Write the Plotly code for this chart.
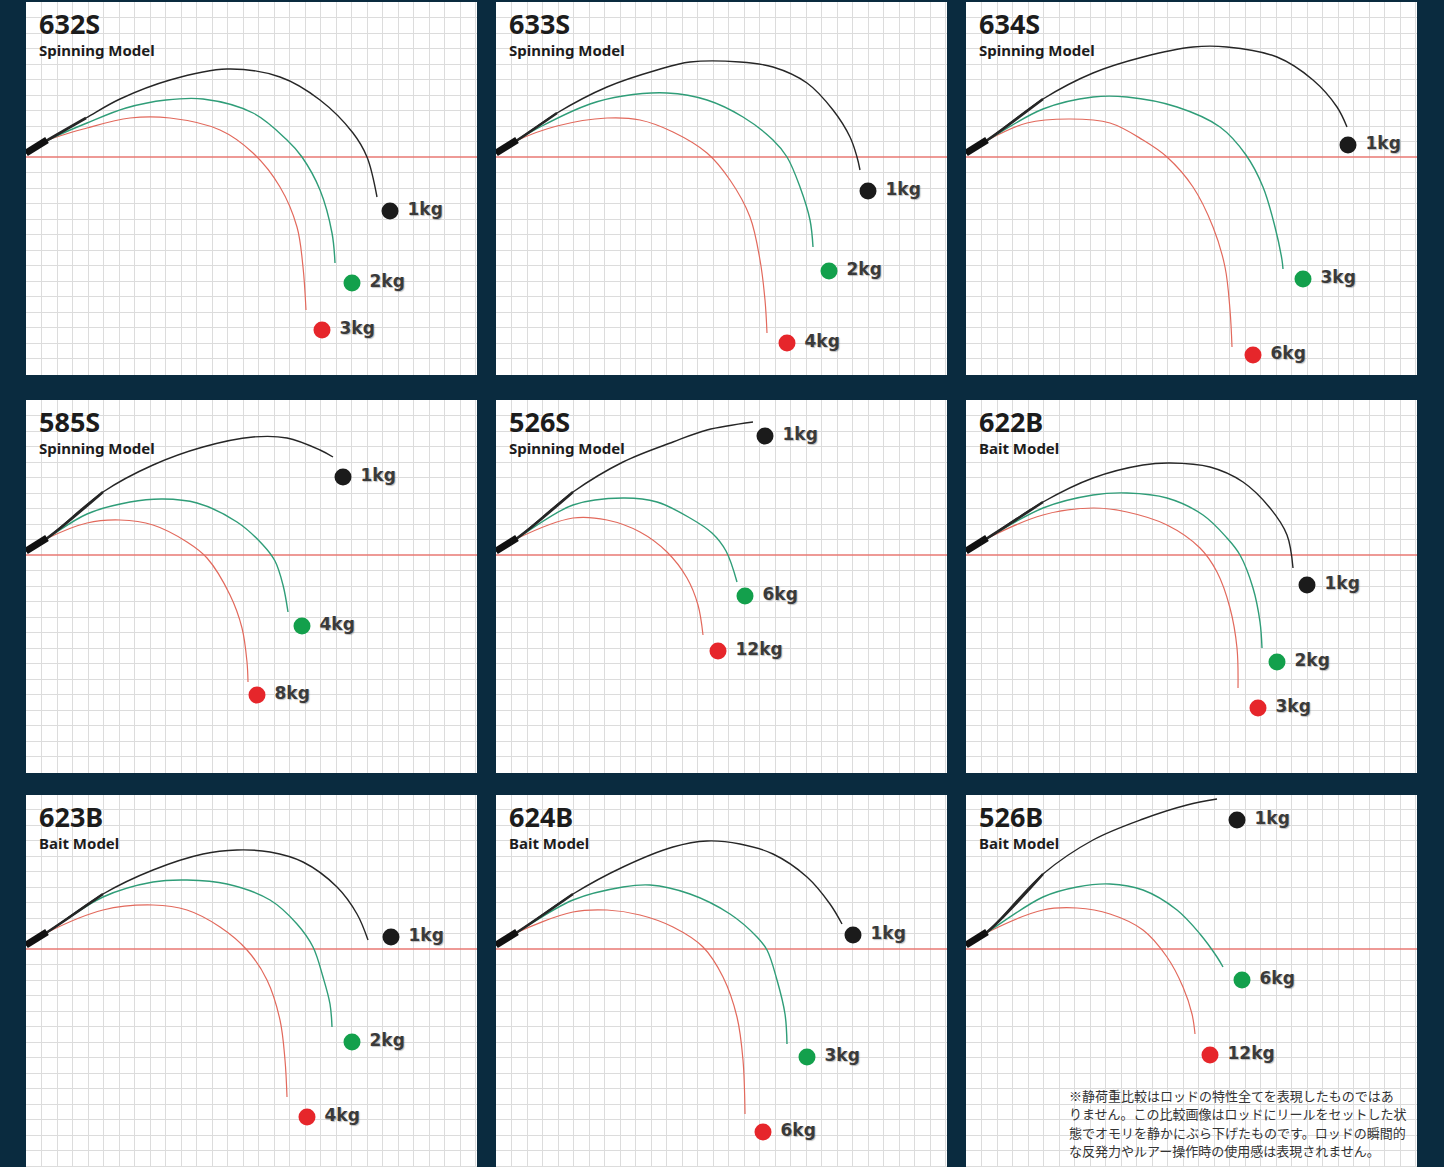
import plotly.graph_objects as go

# ---------------- data (x: from panel left edge, y: above the red baseline) ----------------
models = ["632S", "633S", "634S", "585S", "526S", "622B", "623B", "624B", "526B"]
model_types = ["Spinning Model"] * 5 + ["Bait Model"] * 4
load_labels = [
    ["1kg", "2kg", "3kg"],
    ["1kg", "2kg", "4kg"],
    ["1kg", "3kg", "6kg"],
    ["1kg", "4kg", "8kg"],
    ["1kg", "6kg", "12kg"],
    ["1kg", "2kg", "3kg"],
    ["1kg", "2kg", "4kg"],
    ["1kg", "3kg", "6kg"],
    ["1kg", "6kg", "12kg"],
]

butt = [(0, 4), (21, 17)]

rod_632S_black = [(0, 4), (20, 16), (60, 39), (94, 58), (144, 77), (201, 88), (254, 80), (294, 57), (327, 24), (341, 0), (351, -40)]
rod_632S_green = [(0, 4), (20, 16), (61, 34), (100, 49), (140, 57), (177, 58), (227, 44), (261, 17), (276, 0), (294, -33), (306, -76), (309, -106)]
rod_632S_red = [(0, 4), (20, 16), (61, 29), (104, 39), (144, 39), (194, 27), (227, 4), (254, -30), (271, -70), (277, -110), (280, -153)]
tips_632S = [(364, -54), (326, -126), (296, -173)]

rod_633S_black = [(0, 4), (20, 16), (61, 44), (111, 70), (161, 87), (194, 95), (244, 95), (277, 90), (311, 74), (337, 47), (354, 20), (361, 0), (364, -13)]
rod_633S_green = [(0, 4), (20, 16), (44, 30), (94, 53), (127, 61), (171, 64), (211, 57), (247, 40), (277, 17), (291, 0), (304, -30), (314, -63), (317, -90)]
rod_633S_red = [(0, 4), (20, 16), (61, 31), (111, 39), (144, 37), (177, 25), (211, 4), (234, -23), (254, -60), (264, -103), (269, -143), (271, -176)]
tips_633S = [(372, -34), (333, -114), (291, -186)]

rod_634S_black = [(0, 4), (20, 16), (77, 58), (127, 84), (177, 100), (227, 110), (261, 110), (311, 100), (347, 77), (371, 50), (381, 30)]
rod_634S_green = [(0, 4), (20, 16), (77, 48), (127, 60), (161, 60), (211, 50), (254, 30), (280, 2), (297, -30), (309, -70), (316, -103), (317, -112)]
rod_634S_red = [(0, 4), (20, 16), (61, 34), (104, 38), (144, 34), (177, 17), (201, 0), (227, -30), (247, -70), (259, -110), (264, -153), (266, -190)]
tips_634S = [(382, 12), (337, -122), (287, -198)]

rod_585S_black = [(0, 4), (20, 16), (77, 63), (127, 90), (177, 108), (227, 118), (261, 117), (294, 105), (307, 98)]
rod_585S_green = [(0, 4), (20, 16), (61, 41), (104, 53), (137, 56), (171, 52), (211, 33), (237, 10), (249, -6), (257, -30), (262, -57)]
rod_585S_red = [(0, 4), (20, 16), (61, 32), (94, 35), (127, 30), (161, 13), (181, -3), (204, -40), (216, -73), (221, -107), (222, -127)]
tips_585S = [(317, 78), (276, -71), (231, -140)]

rod_526S_black = [(0, 4), (20, 16), (77, 63), (127, 93), (177, 113), (211, 125), (257, 133)]
rod_526S_green = [(0, 4), (20, 16), (77, 50), (127, 57), (161, 53), (194, 37), (216, 22), (230, 4), (241, -27)]
rod_526S_red = [(0, 4), (20, 16), (77, 37), (111, 35), (144, 23), (171, 3), (191, -23), (202, -50), (207, -80)]
tips_526S = [(269, 119), (249, -41), (222, -96)]

rod_622B_black = [(0, 4), (20, 16), (77, 53), (127, 77), (177, 90), (204, 92), (244, 88), (277, 73), (304, 47), (321, 20), (327, -13)]
rod_622B_green = [(0, 4), (20, 16), (77, 47), (127, 60), (161, 62), (201, 57), (237, 40), (261, 17), (274, 0), (287, -33), (294, -67), (296, -93)]
rod_622B_red = [(0, 4), (20, 16), (77, 40), (127, 47), (161, 43), (201, 30), (234, 7), (251, -17), (264, -53), (271, -93), (272, -133)]
tips_622B = [(341, -30), (311, -107), (292, -153)]

rod_623B_black = [(0, 4), (20, 16), (77, 55), (127, 79), (177, 95), (211, 99), (244, 97), (277, 87), (311, 62), (331, 35), (342, 9)]
rod_623B_green = [(0, 4), (20, 16), (77, 52), (127, 67), (161, 69), (201, 65), (244, 49), (271, 25), (287, 2), (297, -28), (304, -55), (306, -78)]
rod_623B_red = [(0, 4), (20, 16), (77, 39), (127, 44), (161, 39), (194, 22), (221, -1), (241, -31), (254, -71), (259, -111), (261, -148)]
tips_623B = [(365, 12), (326, -93), (281, -168)]

rod_624B_black = [(0, 4), (20, 16), (77, 55), (127, 82), (177, 102), (211, 108), (244, 105), (277, 95), (311, 72), (334, 45), (346, 25)]
rod_624B_green = [(0, 4), (20, 16), (77, 49), (127, 62), (154, 64), (194, 55), (234, 35), (261, 12), (271, -1), (281, -31), (289, -65), (291, -95)]
rod_624B_red = [(0, 4), (20, 16), (77, 37), (111, 39), (144, 34), (177, 22), (207, 2), (227, -28), (241, -68), (247, -111), (249, -165)]
tips_624B = [(357, 14), (311, -108), (267, -183)]

rod_526B_black = [(0, 4), (20, 16), (77, 75), (127, 109), (177, 130), (221, 144), (251, 150)]
rod_526B_green = [(0, 4), (20, 16), (77, 52), (111, 62), (144, 65), (177, 59), (211, 39), (234, 15), (251, -8), (257, -18)]
rod_526B_red = [(0, 4), (20, 16), (77, 39), (111, 41), (144, 35), (177, 19), (201, -8), (217, -38), (226, -65), (229, -85)]
tips_526B = [(271, 129), (276, -31), (244, -106)]

note_lines = [
    "※静荷重比較はロッドの特性全てを表現したものではあ",
    "りません。この比較画像はロッドにリールをセットした状",
    "態でオモリを静かにぶら下げたものです。ロッドの瞬間的",
    "な反発力やルアー操作時の使用感は表現されません。",
]

rod_curves = [
    (rod_632S_black, rod_632S_green, rod_632S_red, tips_632S),
    (rod_633S_black, rod_633S_green, rod_633S_red, tips_633S),
    (rod_634S_black, rod_634S_green, rod_634S_red, tips_634S),
    (rod_585S_black, rod_585S_green, rod_585S_red, tips_585S),
    (rod_526S_black, rod_526S_green, rod_526S_red, tips_526S),
    (rod_622B_black, rod_622B_green, rod_622B_red, tips_622B),
    (rod_623B_black, rod_623B_green, rod_623B_red, tips_623B),
    (rod_624B_black, rod_624B_green, rod_624B_red, tips_624B),
    (rod_526B_black, rod_526B_green, rod_526B_red, tips_526B),
]

# ---------------- style / layout ----------------
W, H = 1444, 1167
BG = "#0a2b3f"
COL_LEFT = [26, 496, 966]
ROW_TOP = [2, 400, 795]
ROW_H = [373, 373, 372]
ROW_BASE = [155, 155, 154]
PANEL_W = 451
GRID_STEP = 15.5

LINE_COLORS = {"black": "#262626", "green": "#2f9d78", "red": "#e2695c"}
LINE_WIDTHS = {"black": 1.4, "green": 1.4, "red": 1.2}
MARKER_COLORS = ["#1b1b1b", "#13a04c", "#e6262b"]


def xs(pts):
    return [p[0] for p in pts]


def ys(pts):
    return [p[1] for p in pts]


fig = go.Figure()
layout_axes = {}
annotations = []

for i, (black, green, red, tips) in enumerate(rod_curves):
    n = i + 1
    row, col = divmod(i, 3)
    left, top, h, base = COL_LEFT[col], ROW_TOP[row], ROW_H[row], ROW_BASE[row]
    xa = "x" if n == 1 else f"x{n}"
    ya = "y" if n == 1 else f"y{n}"
    xkey = "xaxis" if n == 1 else f"xaxis{n}"
    ykey = "yaxis" if n == 1 else f"yaxis{n}"

    layout_axes[xkey] = dict(
        domain=[left / W, (left + PANEL_W) / W], range=[0, PANEL_W],
        showgrid=True, gridcolor="#dcdcdc", gridwidth=1, dtick=GRID_STEP, tick0=0,
        showticklabels=False, ticks="", zeroline=False, showline=False,
        fixedrange=True, anchor=ya,
    )
    layout_axes[ykey] = dict(
        domain=[1 - (top + h) / H, 1 - top / H], range=[base - h, base],
        showgrid=True, gridcolor="#dcdcdc", gridwidth=1, dtick=GRID_STEP, tick0=0,
        showticklabels=False, ticks="", zeroline=True,
        zerolinecolor="rgba(232,120,115,0.75)", zerolinewidth=2,
        showline=False, fixedrange=True, anchor=xa,
    )

    for key, pts in (("red", red), ("green", green), ("black", black)):
        fig.add_trace(go.Scatter(
            x=xs(pts), y=ys(pts), mode="lines",
            line=dict(color=LINE_COLORS[key], width=LINE_WIDTHS[key], shape="spline", smoothing=1.0),
            xaxis=xa, yaxis=ya, hoverinfo="skip", showlegend=False,
        ))
    # thicker blank section of the lightest-load curve near the butt
    fig.add_trace(go.Scatter(
        x=xs(black[:3]), y=ys(black[:3]), mode="lines",
        line=dict(color=LINE_COLORS["black"], width=2.6, shape="spline", smoothing=1.0),
        xaxis=xa, yaxis=ya, hoverinfo="skip", showlegend=False,
    ))
    fig.add_trace(go.Scatter(
        x=xs(butt), y=ys(butt), mode="lines", line=dict(color="#111111", width=7),
        xaxis=xa, yaxis=ya, hoverinfo="skip", showlegend=False,
    ))
    fig.add_trace(go.Scatter(
        x=xs(tips), y=ys(tips), mode="markers+text",
        marker=dict(size=17, color=MARKER_COLORS, line=dict(width=0)),
        text=[" " + t for t in load_labels[i]], textposition="middle right",
        textfont=dict(family="DejaVu Sans", size=17, color="#3a3a3a", weight="bold",
                      shadow="1px 1px 1px rgba(0,0,0,0.25)"),
        cliponaxis=False, xaxis=xa, yaxis=ya, hoverinfo="skip", showlegend=False,
    ))

    annotations.append(dict(
        text=(f"<span style='font-size:27px'><b>{models[i]}</b></span><br>"
              f"<span style='font-size:15px'><b>{model_types[i]}</b></span>"),
        xref="paper", yref="paper", align="left",
        x=(left + 11) / W, y=1 - (top + 1) / H, xanchor="left", yanchor="top",
        showarrow=False, font=dict(family="Noto Sans", size=17, color="#1c1c1c"),
    ))

for k, line in enumerate(note_lines):
    annotations.append(dict(
        text=line, xref="paper", yref="paper",
        x=1067 / W, y=1 - (1095 + 18.5 * k) / H, xanchor="left", yanchor="middle",
        showarrow=False, font=dict(family="Noto Sans CJK JP", size=13, color="#333333"),
    ))

fig.update_layout(
    width=W, height=H, margin=dict(l=0, r=0, t=0, b=0),
    paper_bgcolor=BG, plot_bgcolor="#ffffff",
    annotations=annotations, **layout_axes,
)

fig.write_html(
    "out.html",
    config={"displayModeBar": False},
    post_script="document.body.style.margin='0';document.body.style.background='#0a2b3f';",
)
